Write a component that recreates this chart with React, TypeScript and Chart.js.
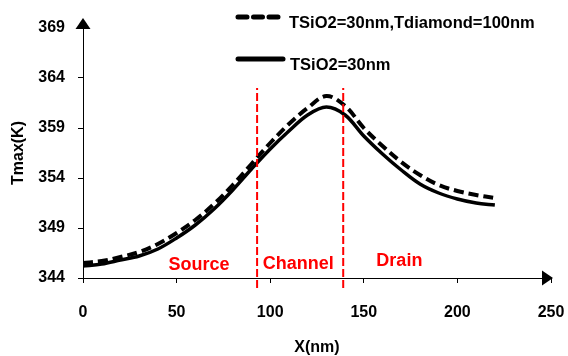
import { useEffect, useRef } from 'react';
import { Chart, registerables } from 'chart.js';

Chart.register(...registerables);

// ---- data ----
const xNm = [0, 10, 20, 30, 40, 50, 60, 70, 80, 90, 100, 110, 120, 130, 140, 150, 160, 170, 180, 190, 200, 210, 220];
const tmaxDiamond = [345.5, 345.7, 346.1, 346.6, 347.4, 348.5, 349.8, 351.4, 353.3, 355.4, 357.5, 359.4, 361.0, 362.2, 361.2, 359.0, 357.2, 355.6, 354.3, 353.3, 352.7, 352.3, 352.0];
const tmaxSiO2 = [345.2, 345.4, 345.8, 346.2, 346.9, 348.0, 349.3, 350.9, 352.8, 354.9, 356.9, 358.7, 360.3, 361.1, 360.3, 358.2, 356.4, 354.8, 353.4, 352.5, 351.9, 351.5, 351.3];
const seriesLabels = ['TSiO2=30nm,Tdiamond=100nm', 'TSiO2=30nm'];
const regionBoundaries = [93, 139];
const boundaryRange = [343, 363];
const regionNames = ['Source', 'Channel', 'Drain'];
const regionNameX = [62, 115, 169];
const regionNameY = [345.3, 345.4, 345.7];
const xTicks = [0, 50, 100, 150, 200, 250];
const yTicks = [344, 349, 354, 359, 364, 369];
const xTitle = 'X(nm)';
const yTitle = 'Tmax(K)';

const FONT = '"Liberation Sans", Arial, Helvetica, sans-serif';

const decorPlugin = {
  id: 'decor',
  afterDraw(chart: any) {
    const { ctx, chartArea: a, scales } = chart;
    ctx.save();
    // axis arrows
    ctx.fillStyle = '#000';
    ctx.beginPath();
    ctx.moveTo(a.left, a.top - 10);
    ctx.lineTo(a.left - 7.5, a.top + 1);
    ctx.lineTo(a.left + 7.5, a.top + 1);
    ctx.closePath();
    ctx.fill();
    ctx.beginPath();
    ctx.moveTo(a.right + 2, a.bottom);
    ctx.lineTo(a.right - 9, a.bottom - 7.5);
    ctx.lineTo(a.right - 9, a.bottom + 7.5);
    ctx.closePath();
    ctx.fill();

    // region names
    ctx.fillStyle = '#ff0000';
    ctx.font = `bold 18px ${FONT}`;
    ctx.textAlign = 'center';
    ctx.textBaseline = 'middle';
    regionNames.forEach((n, i) => {
      ctx.fillText(n, scales.x.getPixelForValue(regionNameX[i]), scales.y.getPixelForValue(regionNameY[i]));
    });

    // legend
    const rows = [
      { ds: chart.data.datasets[0], x0: 238, x1: 278, y: 17, tx: 289, ty: 28 },
      { ds: chart.data.datasets[1], x0: 238, x1: 283, y: 59, tx: 290, ty: 70 },
    ];
    ctx.textAlign = 'left';
    ctx.textBaseline = 'alphabetic';
    ctx.font = `bold 16.5px ${FONT}`;
    rows.forEach((r) => {
      ctx.strokeStyle = r.ds.borderColor;
      ctx.lineWidth = 5;
      ctx.lineCap = 'round';
      ctx.setLineDash(r.ds.borderDash && r.ds.borderDash.length ? [9, 6.5] : []);
      ctx.beginPath();
      ctx.moveTo(r.x0, r.y);
      ctx.lineTo(r.x1, r.y);
      ctx.stroke();
      ctx.setLineDash([]);
      ctx.fillStyle = '#000';
      ctx.fillText(r.ds.label, r.tx, r.ty);
    });
    ctx.restore();
  },
};

export default function App() {
  const ref = useRef<HTMLCanvasElement>(null);

  useEffect(() => {
    const boundaryDatasets = regionBoundaries.map((b) => ({
      label: '',
      data: boundaryRange.map((y) => ({ x: b, y })),
      borderColor: '#ff0000',
      borderWidth: 2,
      borderDash: [8, 3],
      pointRadius: 0,
      clip: false,
      order: 0,
    }));
    const chart = new Chart(ref.current!, {
      type: 'line',
      data: {
        datasets: [
          {
            label: seriesLabels[0],
            data: xNm.map((x, i) => ({ x, y: tmaxDiamond[i] })),
            borderColor: '#000',
            borderWidth: 4,
            borderDash: [10, 5],
            pointRadius: 0,
            tension: 0.35,
            order: 1,
          },
          {
            label: seriesLabels[1],
            data: xNm.map((x, i) => ({ x, y: tmaxSiO2[i] })),
            borderColor: '#000',
            borderWidth: 3.5,
            pointRadius: 0,
            tension: 0.35,
            order: 2,
          },
          ...boundaryDatasets,
        ] as any,
      },
      options: {
        responsive: false,
        animation: false,
        devicePixelRatio: 1,
        layout: { padding: { left: 0, top: 28, right: 17, bottom: 0 } },
        plugins: { legend: { display: false }, tooltip: { enabled: false } },
        scales: {
          x: {
            type: 'linear',
            min: xTicks[0],
            max: xTicks[xTicks.length - 1],
            afterBuildTicks: (s: any) => { s.ticks = xTicks.map((v) => ({ value: v })); },
            afterFit: (s: any) => { s.height = 78; s.paddingLeft = 0; s.paddingRight = 0; },
            grid: { drawOnChartArea: false, drawTicks: true, tickLength: 5, color: '#000' },
            border: { display: true, color: '#000', width: 1 },
            ticks: { color: '#000', font: { family: FONT, size: 16, weight: 'bold' }, padding: 20, maxRotation: 0 },
            title: { display: true, text: xTitle, color: '#000', font: { family: FONT, size: 16, weight: 'bold', lineHeight: 1 }, padding: { top: 0, bottom: 0 } },
          },
          y: {
            type: 'linear',
            min: yTicks[0],
            max: yTicks[yTicks.length - 1],
            afterBuildTicks: (s: any) => { s.ticks = yTicks.map((v) => ({ value: v })); },
            afterFit: (s: any) => { s.width = 83; s.paddingTop = 0; s.paddingBottom = 0; },
            grid: { drawOnChartArea: false, drawTicks: true, tickLength: 5, color: '#000' },
            border: { display: true, color: '#000', width: 1 },
            ticks: { color: '#000', font: { family: FONT, size: 16, weight: 'bold' }, padding: 13 },
            title: { display: true, text: yTitle, color: '#000', font: { family: FONT, size: 16, weight: 'bold', lineHeight: 1 }, padding: { top: 11, bottom: 0 } },
          },
        },
      } as any,
      plugins: [decorPlugin],
    });
    return () => chart.destroy();
  }, []);

  return (
    <div style={{ position: 'absolute', left: 0, top: 0, width: 568, height: 356, background: '#fff' }}>
      <canvas ref={ref} width={568} height={356} style={{ display: 'block' }} />
    </div>
  );
}
